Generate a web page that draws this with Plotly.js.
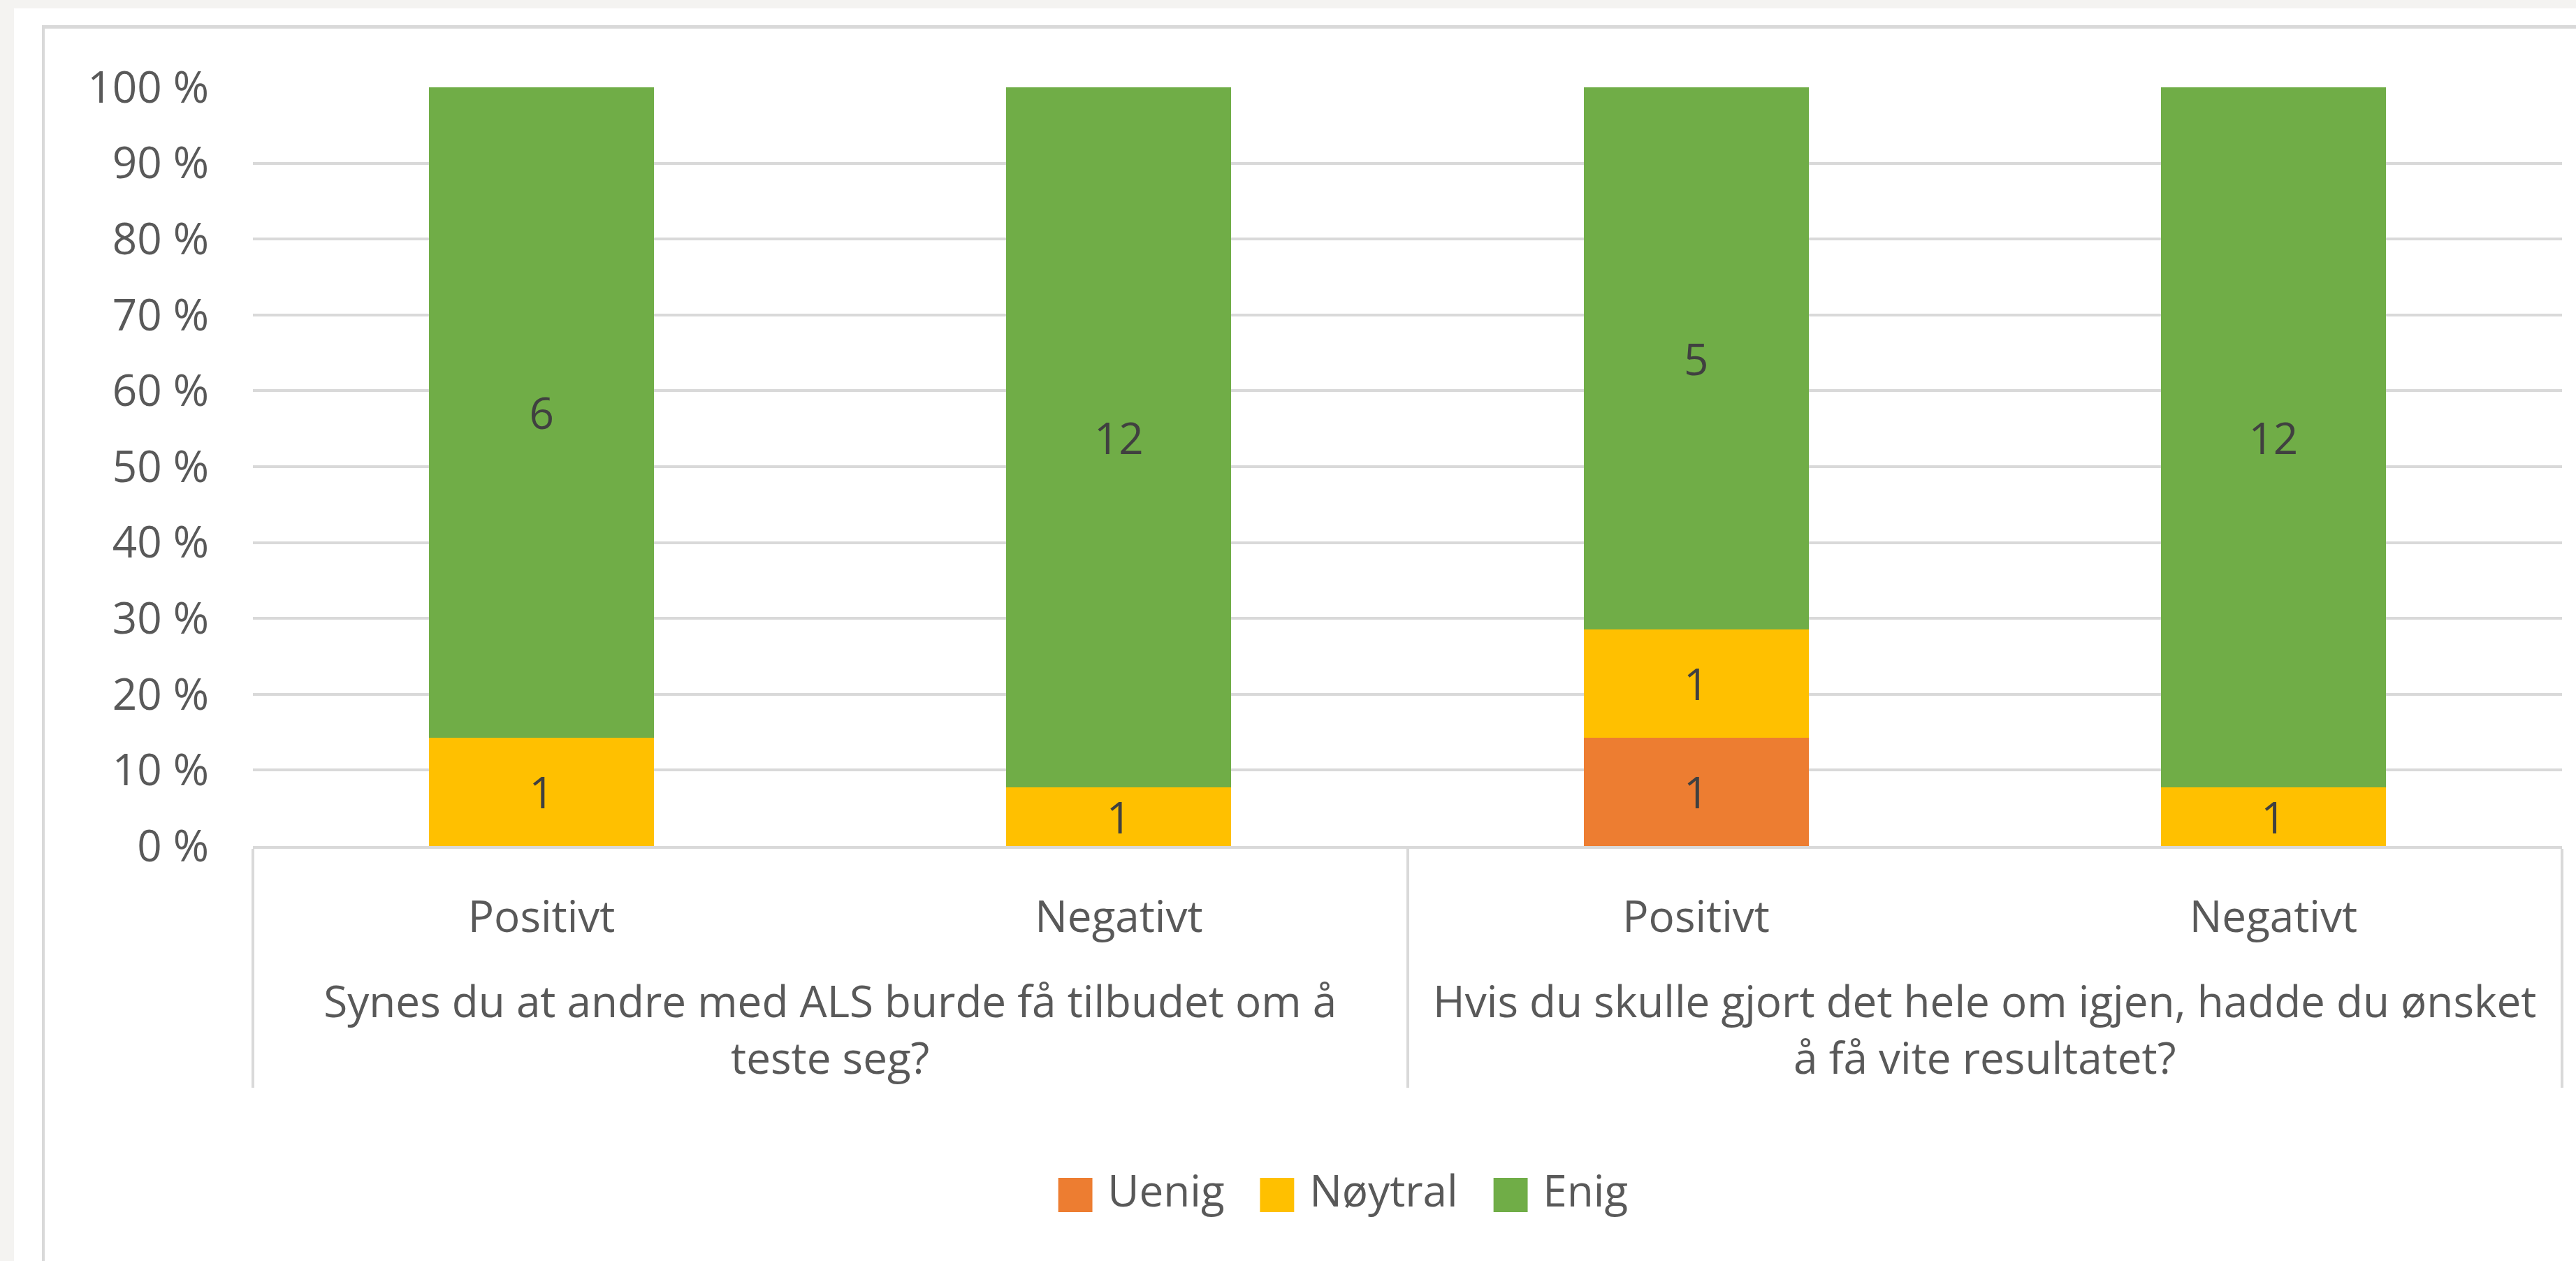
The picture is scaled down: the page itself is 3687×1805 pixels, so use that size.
<!DOCTYPE html>
<html>
<head>
<meta charset="utf-8">
<script src="https://cdn.plot.ly/plotly-3.0.1.min.js"></script>
<style>
  html, body { margin: 0; padding: 0; width: 3687px; height: 1805px; overflow: hidden; background: #f4f3f1; }
  #frame { position: absolute; left: 20px; top: 12px; width: 3667px; height: 1793px; background: #ffffff; }
  #bleft { position: absolute; left: 60px; top: 36px; width: 4px; height: 1769px; background: #d9d9d9; }
  #btop { position: absolute; left: 60px; top: 36px; width: 3627px; height: 5px; background: #d9d9d9; }
  #plot { position: absolute; left: 0; top: 0; width: 3687px; height: 1805px; }
</style>
</head>
<body>
<div id="frame"></div>
<div id="bleft"></div>
<div id="btop"></div>
<div id="plot"></div>
<script>
// Data
const questions = [
  "Synes du at andre med ALS burde få tilbudet om å<br>teste seg?",
  "Synes du at andre med ALS burde få tilbudet om å<br>teste seg?",
  "Hvis du skulle gjort det hele om igjen, hadde du ønsket<br>å få vite resultatet?",
  "Hvis du skulle gjort det hele om igjen, hadde du ønsket<br>å få vite resultatet?"
];
const answers = ["Positivt", "Negativt", "Positivt", "Negativt"];
const seriesNames = ["Uenig", "Nøytral", "Enig"];
const uenig = [0, 0, 1, 0];
const noytral = [1, 1, 1, 1];
const enig = [6, 12, 5, 12];
const yTicks = [0, 10, 20, 30, 40, 50, 60, 70, 80, 90, 100];

const colors = ["#ED7D31", "#FFC000", "#70AD47"];
const FONT = "'Open Sans', 'DejaVu Sans', sans-serif";
const FS = 62;
const seriesVals = [uenig, noytral, enig];

// inner labels get an empty second line so the outer level sits lower (as in the reference)
const innerLabels = answers.map(a => a + "<br>\u00a0");

const traces = seriesVals.map((vals, i) => ({
  type: "bar",
  name: seriesNames[i],
  x: [questions, innerLabels],
  y: vals,
  text: vals.map(v => v ? String(v) : ""),
  textposition: "inside",
  insidetextanchor: "middle",
  textangle: 0,
  constraintext: "none",
  insidetextfont: { family: FONT, size: FS, color: "#404040" },
  marker: { color: colors[i], line: { width: 0 } },
  showlegend: false,
  hoverinfo: "y+name"
}));

// legend entries (large square glyphs)
seriesNames.forEach((n, i) => {
  traces.push({
    type: "bar",
    name: '<span style="color:' + colors[i] + ';font-family:DejaVu Sans;font-size:64px">■</span> ' + n,
    x: [[questions[0]], [innerLabels[0]]],
    y: [null],
    marker: { color: "rgba(0,0,0,0)", line: { width: 0 } },
    showlegend: true,
    hoverinfo: "skip"
  });
});

const layout = {
  width: 3687,
  height: 1805,
  autosize: false,
  margin: { l: 362, r: 20, t: 125, b: 594, pad: 0 },
  paper_bgcolor: "rgba(0,0,0,0)",
  plot_bgcolor: "rgba(0,0,0,0)",
  barmode: "stack",
  barnorm: "percent",
  bargap: 0.61,
  font: { family: FONT, size: FS, color: "#595959" },
  xaxis: {
    type: "multicategory",
    showline: true,
    linecolor: "#d9d9d9",
    linewidth: 4,
    showgrid: false,
    zeroline: false,
    ticks: "",
    showdividers: true,
    dividercolor: "#d9d9d9",
    dividerwidth: 4,
    tickfont: { family: FONT, size: FS, color: "#595959" },
    ticklabelstandoff: 45
  },
  yaxis: {
    range: [0, 100],
    tickvals: yTicks,
    ticktext: yTicks.map(v => v + " %"),
    showgrid: true,
    gridcolor: "#d9d9d9",
    gridwidth: 4,
    zeroline: false,
    showline: false,
    ticks: "",
    tickfont: { family: FONT, size: FS, color: "#595959" },
    ticklabelstandoff: 62
  },
  legend: {
    orientation: "h",
    x: 0.466,
    xanchor: "center",
    y: -0.453,
    yanchor: "middle",
    traceorder: "normal",
    font: { family: FONT, size: FS, color: "#595959" },
    bgcolor: "rgba(0,0,0,0)"
  }
};

Plotly.newPlot("plot", traces, layout, { displayModeBar: false, staticPlot: true });
</script>
</body>
</html>
